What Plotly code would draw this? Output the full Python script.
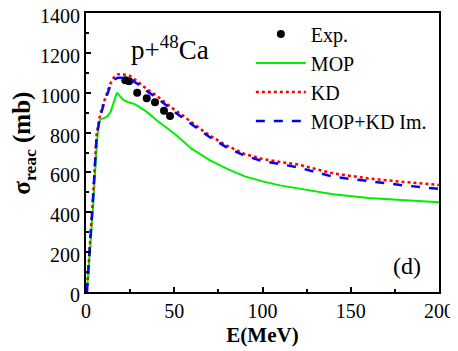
import plotly.graph_objects as go

# experimental data
exp_e = [22.3, 24.4, 29.0, 34.4, 39.1, 44.2, 47.6]
exp_sig = [1062, 1057, 1000, 972, 952, 910, 883]

# MOP
mop_e = [0.5, 2, 4, 6, 7, 8, 10, 12, 14, 16, 17.5, 19, 21, 24, 27, 30, 35, 40, 45, 50,
         60, 70, 80, 90, 100, 110, 120, 140, 160, 180, 200]
mop_sig = [0, 180, 430, 730, 830, 865, 872, 880, 905, 960, 1000, 985, 965, 952, 945, 930, 900, 862, 828, 795,
           718, 662, 618, 580, 555, 535, 520, 490, 472, 460, 450]

# KD
kd_e = [0.5, 2, 4, 6, 8, 10, 12, 14, 16, 18, 20, 25, 30, 35, 40, 45, 50, 55, 60,
        70, 80, 90, 100, 110, 120, 140, 160, 180, 200]
kd_sig = [0, 200, 480, 790, 890, 950, 1005, 1050, 1080, 1092, 1094, 1084, 1050, 1015, 985, 950, 915, 885, 850,
          786, 733, 692, 668, 652, 640, 595, 570, 552, 537]

# MOP+KD Im.
mk_e = [0.5, 2, 4, 6, 8, 10, 12, 14, 16, 18, 20, 25, 30, 35, 40, 45, 50, 60,
        70, 80, 90, 100, 110, 120, 140, 160, 180, 200]
mk_sig = [0, 190, 470, 780, 880, 940, 995, 1040, 1066, 1075, 1075, 1068, 1040, 1005, 975, 940, 905, 840,
          778, 724, 684, 657, 640, 626, 578, 555, 535, 517]

serif = "Liberation Serif"

fig = go.Figure()
fig.add_trace(go.Scatter(x=exp_e, y=exp_sig, mode="markers", name="Exp.",
                         marker=dict(color="black", size=8)))
fig.add_trace(go.Scatter(x=mop_e, y=mop_sig, mode="lines", name="MOP",
                         line=dict(color="#00ee00", width=2)))
fig.add_trace(go.Scatter(x=kd_e, y=kd_sig, mode="lines", name="KD",
                         line=dict(color="red", width=2.5, dash="dot")))
fig.add_trace(go.Scatter(x=mk_e, y=mk_sig, mode="lines", name="MOP+KD Im.",
                         line=dict(color="blue", width=2.5, dash="dash")))

fig.add_annotation(x=0.238, y=0.875, xref="paper", yref="paper", text="p+<sup>48</sup>Ca",
                   xanchor="center", yanchor="middle",
                   showarrow=False, font=dict(family=serif, size=27, color="black"))
fig.add_annotation(x=0.909, y=0.093, xref="paper", yref="paper", text="(d)",
                   xanchor="center", yanchor="middle",
                   showarrow=False, font=dict(family=serif, size=24, color="black"))

# the page adds an 8px body margin, so the figure is a bit smaller than the window
fig.update_layout(
    width=450, height=343,
    margin=dict(l=78, r=19, t=5, b=59),
    plot_bgcolor="white", paper_bgcolor="white",
    font=dict(family=serif, size=20, color="black"),
    showlegend=True,
    legend=dict(x=0.467, y=0.995, xanchor="left", yanchor="top",
                bgcolor="rgba(0,0,0,0)", font=dict(family=serif, size=20),
                itemwidth=50, tracegroupgap=0),
    xaxis=dict(range=[0, 200], tickvals=[0, 50, 100, 150, 200], automargin=False,
               ticklabeloverflow="allow",
               ticks="inside", ticklen=5, tickwidth=1.5, tickcolor="black",
               minor=dict(tickvals=[25, 75, 125, 175], ticks="inside", ticklen=3, tickcolor="black"),
               showline=True, linecolor="black", linewidth=2, mirror=True,
               showgrid=False, zeroline=False,
               title=dict(text="<b>E(MeV)</b>", font=dict(size=21), standoff=6)),
    yaxis=dict(range=[0, 1400], tickvals=[0, 200, 400, 600, 800, 1000, 1200, 1400], automargin=False,
               ticklabeloverflow="allow", ticklabelshift=3,
               ticks="inside", ticklen=5, tickwidth=1.5, tickcolor="black",
               minor=dict(tickvals=[100, 300, 500, 700, 900, 1100, 1300], ticks="inside", ticklen=3,
                          tickcolor="black"),
               showline=True, linecolor="black", linewidth=2, mirror=True,
               showgrid=False, zeroline=False,
               title=dict(text="<b>&nbsp;&nbsp;&nbsp;σ<sub>reac</sub> (mb)</b>", font=dict(size=25), standoff=2)),
)

fig.write_html("out.html")
